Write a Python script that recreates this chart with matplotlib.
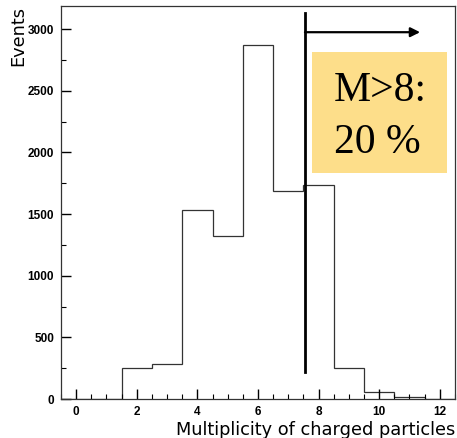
import numpy as np
import matplotlib
matplotlib.use("Agg")
import matplotlib.pyplot as plt
from matplotlib.patches import Rectangle

###############################################################################
# data: charged particle multiplicity histogram

multiplicity = [0, 1, 2, 3, 4, 5, 6, 7, 8, 9, 10, 11, 12]
events = [0, 0, 250, 288, 1535, 1325, 2868, 1690, 1732, 250, 58, 15, 0]
xTicks = [0, 2, 4, 6, 8, 10, 12]
yTicks = [0, 500, 1000, 1500, 2000, 2500, 3000]
cutValue = 7.55

###############################################################################

def plotMultiplicity(figFile="out.png"):
    fig = plt.figure(figsize=(4.57, 4.38), dpi=100)
    ax = fig.add_axes([0.1335, 0.089, 0.862, 0.898])

    edges = np.append(np.array(multiplicity) - 0.5, multiplicity[-1] + 0.5)
    ax.stairs(events, edges, color="#333333", linewidth=0.9)

    ax.set_xlim(-0.5, 12.5)
    ax.set_ylim(0, 3190)
    ax.set_xticks(xTicks)
    ax.set_yticks(yTicks)
    ax.set_xticks(np.arange(-0.5, 12.6, 0.5), minor=True)
    ax.set_yticks(np.arange(0, 3190, 250), minor=True)
    ax.tick_params(which="major", direction="in", length=7, width=1.0,
                   labelsize=8.5, pad=5, top=False, right=False)
    ax.tick_params(which="minor", direction="in", length=3.5, width=0.8,
                   top=False, right=False)
    for lab in ax.get_xticklabels() + ax.get_yticklabels():
        lab.set_family("Liberation Sans")
        lab.set_fontweight("bold")
    for sp in ax.spines.values():
        sp.set_color("#333333")
        sp.set_linewidth(0.9)

    ax.set_xlabel("Multiplicity of charged particles", fontsize=12.8,
                  family="DejaVu Sans", loc="right", labelpad=2)
    ax.set_ylabel("Events", fontsize=12.8, family="DejaVu Sans",
                  loc="top", labelpad=0)

    # cut line and arrow
    ax.plot([cutValue, cutValue], [220, 3130], color="black", linewidth=2.0)
    ax.annotate("", xy=(11.35, 2975), xytext=(cutValue, 2975),
                arrowprops=dict(arrowstyle="-|>", color="black", lw=1.6,
                                mutation_scale=14, shrinkA=0, shrinkB=0))

    # yellow label box
    ax.add_patch(Rectangle((7.77, 1830), 4.47, 985, facecolor="#FDDE8A",
                           edgecolor="none", zorder=3))
    ax.text(8.5, 2420, "M>8:", fontsize=30, family="Liberation Serif",
            ha="left", va="baseline", zorder=4)
    ax.text(8.5, 1995, "20 %", fontsize=30, family="Liberation Serif",
            ha="left", va="baseline", zorder=4)

    plt.savefig(figFile, dpi=100)

###############################################################################

def main():
    plotMultiplicity()

if __name__ == "__main__":
    main()
